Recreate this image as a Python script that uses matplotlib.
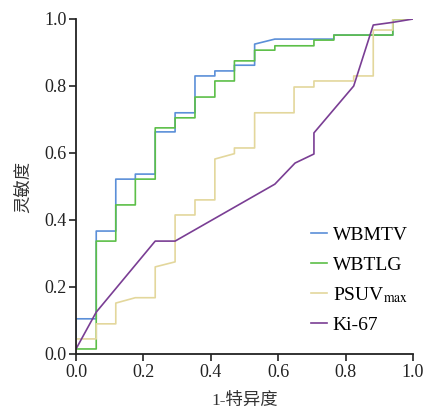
import matplotlib.pyplot as plt
import matplotlib as mpl

mpl.rcParams['mathtext.fontset'] = 'stix'

# ROC 곡선 좌표 (1-특이도, 민감도)
wbmtv_fpr = [0, 0, 0.06, 0.06, 0.118, 0.118, 0.176, 0.176, 0.235, 0.235, 0.294, 0.294,
             0.353, 0.353, 0.412, 0.412, 0.47, 0.47, 0.53, 0.53, 0.59, 0.765, 0.765, 0.94, 0.94, 1.0]
wbmtv_tpr = [0, 0.105, 0.105, 0.367, 0.367, 0.522, 0.522, 0.537, 0.537, 0.663, 0.663, 0.72,
             0.72, 0.83, 0.83, 0.845, 0.845, 0.862, 0.862, 0.925, 0.94, 0.94, 0.952, 0.952, 1.0, 1.0]

wbtlg_fpr = [0, 0, 0.06, 0.06, 0.118, 0.118, 0.176, 0.176, 0.235, 0.235, 0.294, 0.294,
             0.353, 0.353, 0.412, 0.412, 0.47, 0.47, 0.53, 0.53, 0.59, 0.59, 0.706, 0.706,
             0.765, 0.765, 0.94, 0.94, 1.0]
wbtlg_tpr = [0, 0.015, 0.015, 0.337, 0.337, 0.445, 0.445, 0.522, 0.522, 0.675, 0.675, 0.705,
             0.705, 0.767, 0.767, 0.815, 0.815, 0.875, 0.875, 0.907, 0.907, 0.92, 0.92, 0.937,
             0.937, 0.952, 0.952, 0.998, 1.0]

psuv_fpr = [0, 0, 0.06, 0.06, 0.118, 0.118, 0.176, 0.235, 0.235, 0.294, 0.294, 0.353, 0.353,
            0.412, 0.412, 0.47, 0.47, 0.53, 0.53, 0.647, 0.647, 0.706, 0.706, 0.824, 0.824,
            0.882, 0.882, 0.94, 0.94, 1.0]
psuv_tpr = [0, 0.045, 0.045, 0.09, 0.09, 0.152, 0.168, 0.168, 0.26, 0.275, 0.415, 0.415, 0.46,
            0.46, 0.582, 0.598, 0.615, 0.615, 0.72, 0.72, 0.797, 0.797, 0.815, 0.815, 0.83,
            0.83, 0.967, 0.967, 1.0, 1.0]

ki67_fpr = [0, 0.06, 0.235, 0.294, 0.59, 0.65, 0.706, 0.706, 0.824, 0.882, 0.94, 1.0]
ki67_tpr = [0.015, 0.125, 0.337, 0.337, 0.507, 0.57, 0.597, 0.66, 0.8, 0.982, 0.99, 1.0]

fig = plt.figure(figsize=(4.28, 4.12), dpi=100)
ax = fig.add_axes([0.1776, 0.1408, 0.7874, 0.8131])

ax.plot(wbmtv_fpr, wbmtv_tpr, color='#5b8fd8', lw=1.2, label='WBMTV')
ax.plot(wbtlg_fpr, wbtlg_tpr, color='#5cbf48', lw=1.2, label='WBTLG')
ax.plot(psuv_fpr, psuv_tpr, color='#e3d79c', lw=1.2, label=r'PSUV$_{\mathrm{max}}$')
ax.plot(ki67_fpr, ki67_tpr, color='#7a3e94', lw=1.2, label='Ki-67')

ax.set_xlim(0, 1)
ax.set_ylim(0, 1)
ticks = [0.0, 0.2, 0.4, 0.6, 0.8, 1.0]
ax.set_xticks(ticks)
ax.set_yticks(ticks)
ax.set_xticklabels([f'{t:.1f}' for t in ticks], family='Liberation Serif', fontsize=13)
ax.set_yticklabels([f'{t:.1f}' for t in ticks], family='Liberation Serif', fontsize=13)
ax.tick_params(direction='out', length=5, width=1.2, colors='#222222', pad=2)
for s in ['top', 'right']:
    ax.spines[s].set_visible(False)
for s in ['left', 'bottom']:
    ax.spines[s].set_linewidth(1.3)
    ax.spines[s].set_color('#222222')

ax.set_xlabel('1-特异度', family=['Liberation Serif', 'Noto Sans CJK SC'], fontsize=12.5, labelpad=9, color='#333333')
ax.set_ylabel('灵敏度', family=['Noto Sans CJK SC'], fontsize=12.5, labelpad=8, color='#333333')

leg = ax.legend(loc='upper left', bbox_to_anchor=(0.697, 0.38), frameon=False,
                prop={'family': 'Liberation Serif', 'size': 14}, handlelength=0.85,
                handletextpad=0.28, labelspacing=0.6, borderpad=0, borderaxespad=0)

fig.savefig('out.png', dpi=100)
